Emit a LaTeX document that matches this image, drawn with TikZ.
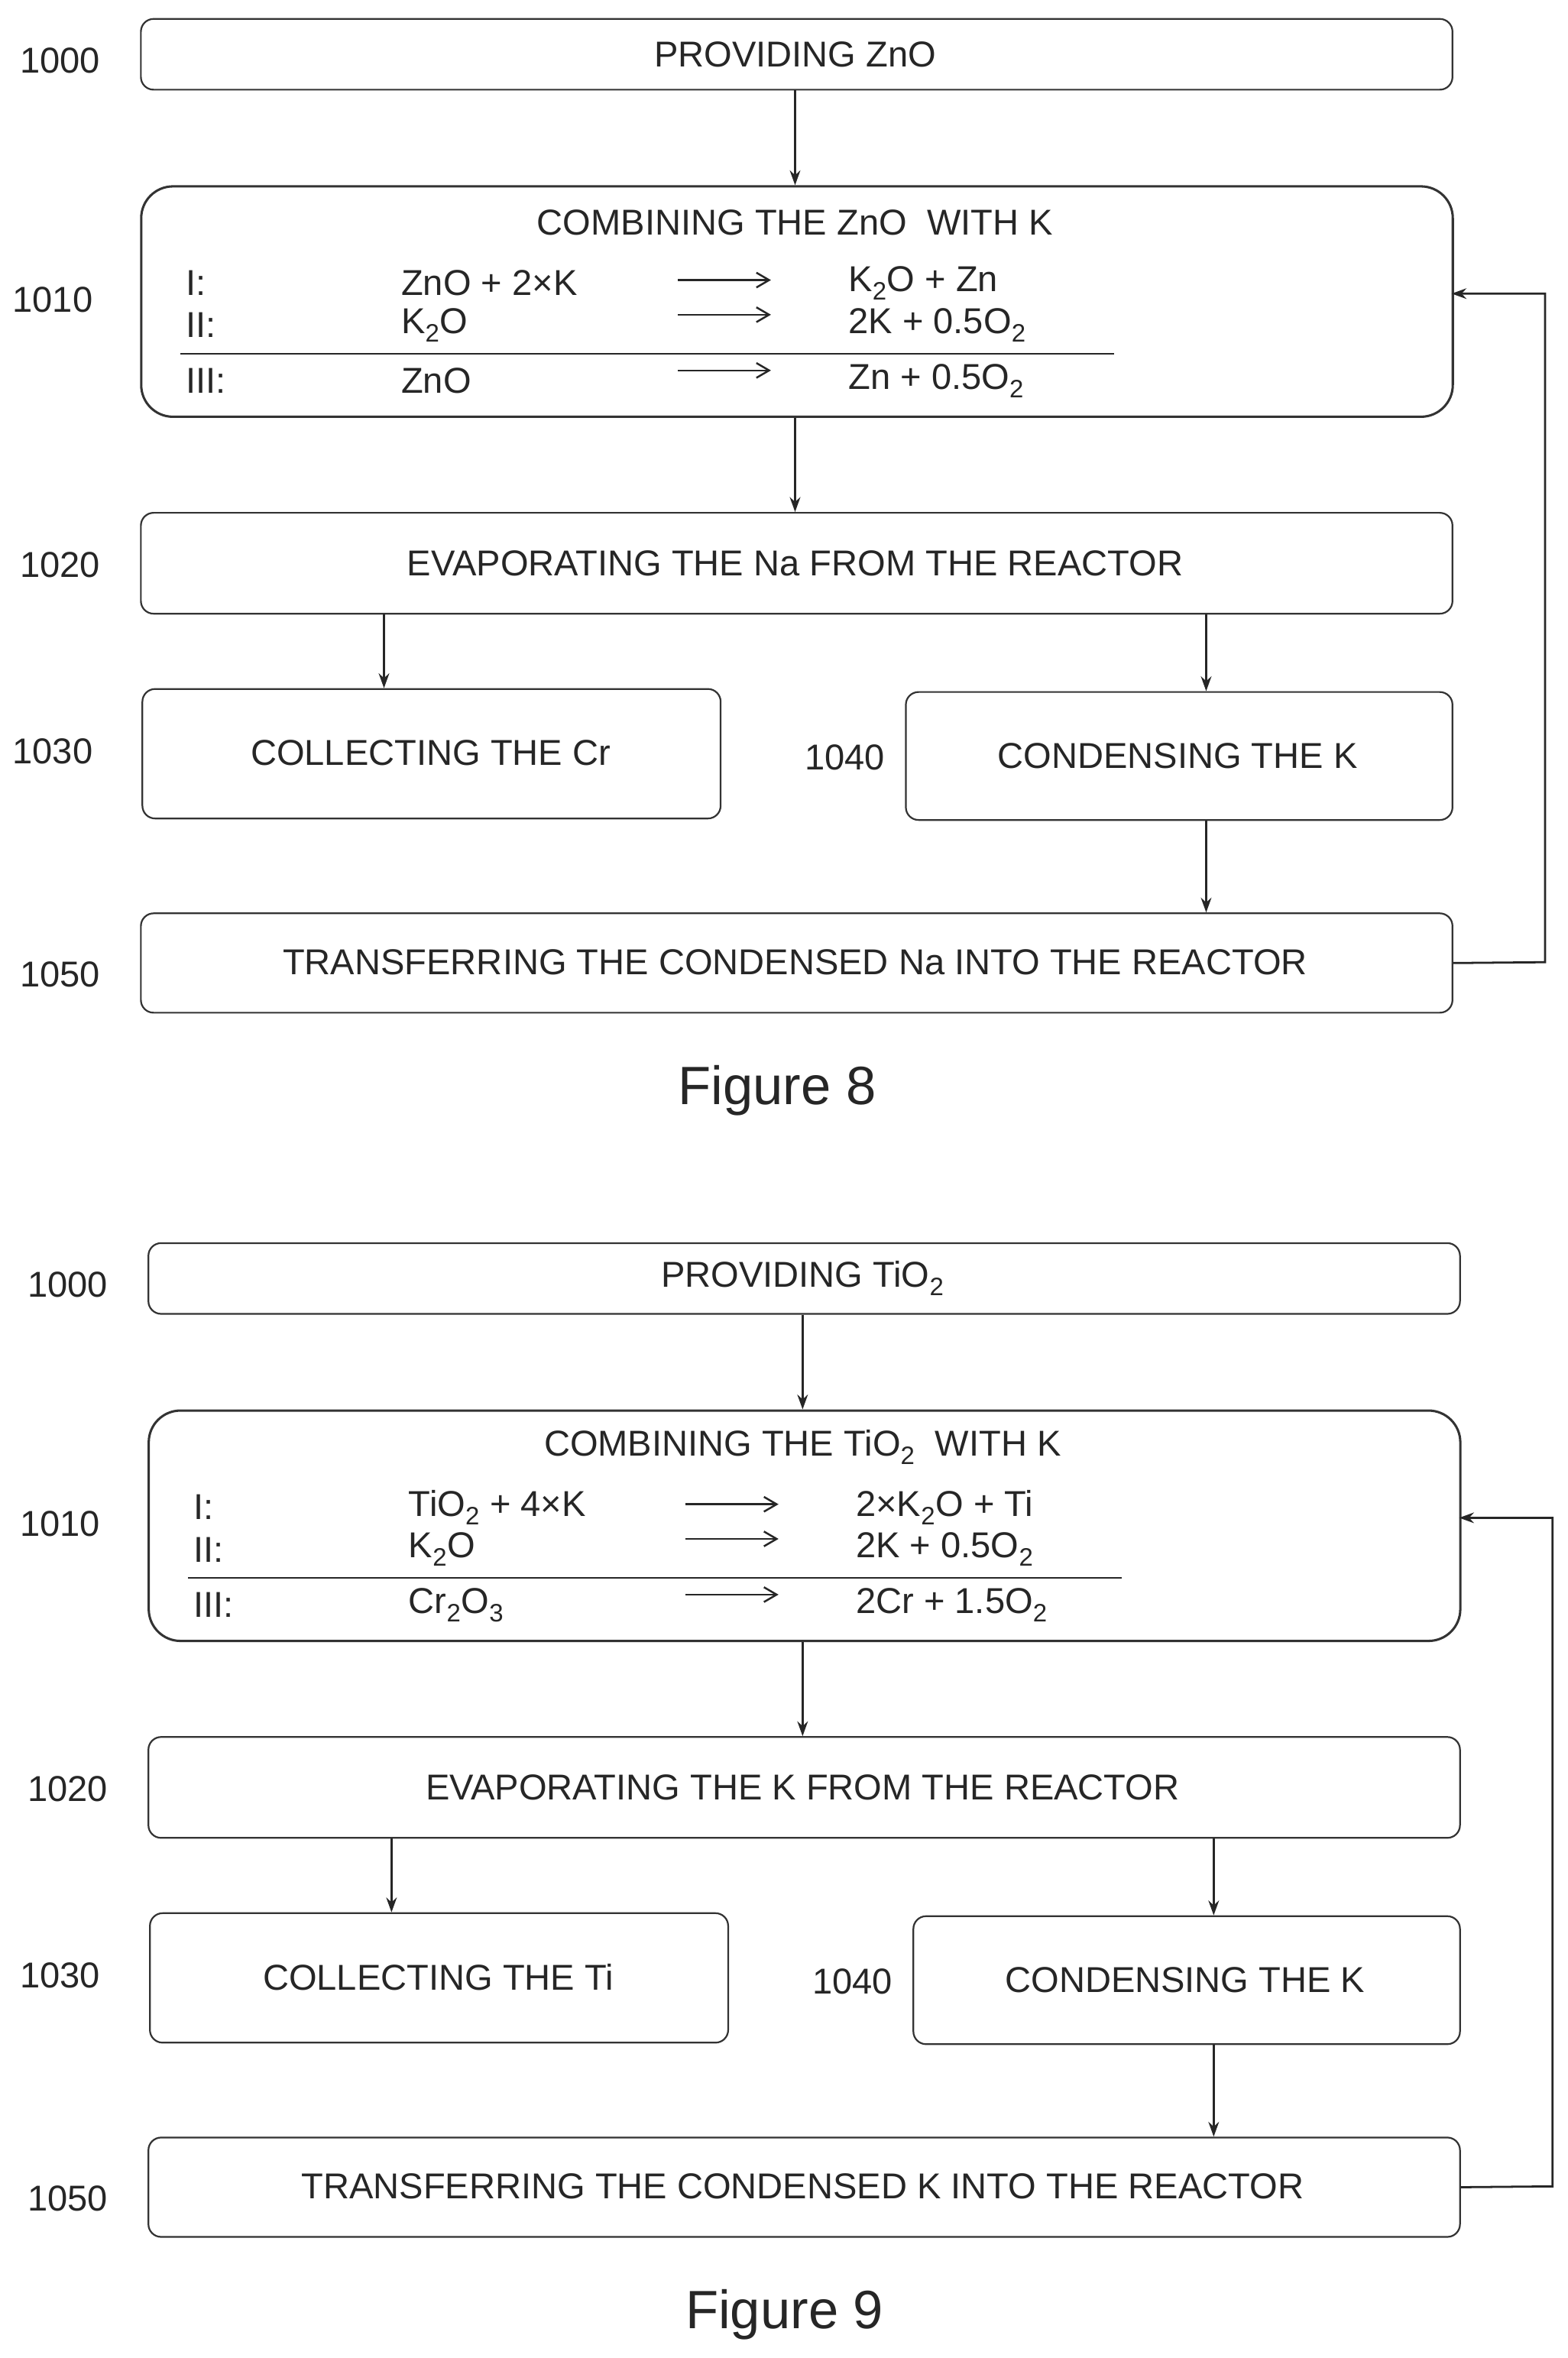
\documentclass[tikz,border=0pt]{standalone}
\usepackage{fontspec}
\setmainfont{Liberation Sans}
\usetikzlibrary{arrows.meta}
\begin{document}
\begin{tikzpicture}[x=0.05cm,y=-0.05cm,
  txt/.style={font=\fontsize{34}{40}\selectfont,text=black!85},
  box/.style={draw=black!80,line width=1.6pt,rounded corners=12pt},
  bigbox/.style={draw=black!80,line width=2.2pt,rounded corners=30pt},
  arr/.style={draw=black!85,line width=2pt,-{Stealth[length=14pt,width=10pt]}},
  carr/.style={draw=black!85,line width=1.8pt,-{Straight Barb[length=12pt,width=14pt]}},
  figcap/.style={font=\fontsize{51}{60}\selectfont,text=black!85}]
\useasboundingbox (0,0) rectangle (1041,1566);
\foreach \dx/\dy/\fig in {0/0/8,5/813/9}{
\begin{scope}[shift={(\dx,\dy)}]
\node[box,minimum width=871*0.05cm,minimum height=47*0.05cm,anchor=north west] (a\fig) at (93,12) {};
\node[bigbox,minimum width=871*0.05cm,minimum height=153*0.05cm,anchor=north west] (b\fig) at (93,123) {};
\node[box,minimum width=871*0.05cm,minimum height=67*0.05cm,anchor=north west] (c\fig) at (93,340) {};
\node[box,minimum width=384*0.05cm,minimum height=86*0.05cm,anchor=north west] (d\fig) at (94,457) {};
\node[box,minimum width=363*0.05cm,minimum height=85*0.05cm,anchor=north west] (e\fig) at (601,459) {};
\node[box,minimum width=871*0.05cm,minimum height=66*0.05cm,anchor=north west] (f\fig) at (93,606) {};
\node[txt] (la\fig) at (40,40) {1000};
\node[txt] (lb\fig) at (35,199) {1010};
\node[txt] (lc\fig) at (40,375) {1020};
\node[txt] (ld\fig) at (35,499) {1030};
\node[txt] (le\fig) at (561,503) {1040};
\node[txt] (lf\fig) at (40,647) {1050};
\draw[arr] (a\fig.south -| 528,0) -- (b\fig.north -| 528,0);
\draw[arr] (b\fig.south -| 528,0) -- (c\fig.north -| 528,0);
\draw[arr] (c\fig.south -| 255,0) -- (d\fig.north -| 255,0);
\draw[arr] (c\fig.south -| 801,0) -- (e\fig.north -| 801,0);
\draw[arr] (e\fig.south -| 801,0) -- (f\fig.north -| 801,0);
\coordinate (fb\fig) at (964,195);
\draw[arr] (f\fig.east) -- (1026,639) -- (1026,195) -- (fb\fig);
\draw[line width=1.5pt,black!85] (120,235) -- (740,235);
\coordinate (p1\fig) at (450,186); \coordinate (q1\fig) at (512,186);
\coordinate (p2\fig) at (450,209); \coordinate (q2\fig) at (512,209);
\coordinate (p3\fig) at (450,246); \coordinate (q3\fig) at (512,246);
\draw[carr] (p1\fig) -- (q1\fig);
\draw[carr] (p2\fig) -- (q2\fig);
\draw[carr] (p3\fig) -- (q3\fig);
\node[txt,anchor=west] (r1\fig) at (121,188) {I:};
\node[txt,anchor=west] (r2\fig) at (121,216) {II:};
\node[txt,anchor=west] (r3\fig) at (121,253) {III:};
\end{scope}}
% Figure 8 texts
\node[txt] (t1) at (528,36) {PROVIDING ZnO};
\node[txt] (t2) at (528,148) {COMBINING THE ZnO\ \ WITH K};
\node[txt,anchor=west] (e1a) at (264,188) {ZnO + 2×K};
\node[txt,anchor=west] (e1b) at (561,188) {K\textsubscript{2}O + Zn};
\node[txt,anchor=west] (e2a) at (264,216) {K\textsubscript{2}O};
\node[txt,anchor=west] (e2b) at (561,216) {2K + 0.5O\textsubscript{2}};
\node[txt,anchor=west] (e3a) at (264,253) {ZnO};
\node[txt,anchor=west] (e3b) at (561,253) {Zn + 0.5O\textsubscript{2}};
\node[txt] (t3) at (528,374) {EVAPORATING THE Na FROM THE REACTOR};
\node[txt] (t4) at (286,500) {COLLECTING THE Cr};
\node[txt] (t5) at (782,502) {CONDENSING THE K};
\node[txt] (t6) at (528,639) {TRANSFERRING THE CONDENSED Na INTO THE REACTOR};
\node[figcap] (c8) at (516,724) {Figure 8};
% Figure 9 texts
\node[txt] (u1) at (533,849) {PROVIDING TiO\textsubscript{2}};
\node[txt] (u2) at (533,961) {COMBINING THE TiO\textsubscript{2}\ \ WITH K};
\node[txt,anchor=west] (f1a) at (269,1001) {TiO\textsubscript{2} + 4×K};
\node[txt,anchor=west] (f1b) at (566,1001) {2×K\textsubscript{2}O + Ti};
\node[txt,anchor=west] (f2a) at (269,1029) {K\textsubscript{2}O};
\node[txt,anchor=west] (f2b) at (566,1029) {2K + 0.5O\textsubscript{2}};
\node[txt,anchor=west] (f3a) at (269,1066) {Cr\textsubscript{2}O\textsubscript{3}};
\node[txt,anchor=west] (f3b) at (566,1066) {2Cr + 1.5O\textsubscript{2}};
\node[txt] (u3) at (533,1187) {EVAPORATING THE K FROM THE REACTOR};
\node[txt] (u4) at (291,1313) {COLLECTING THE Ti};
\node[txt] (u5) at (787,1315) {CONDENSING THE K};
\node[txt] (u6) at (533,1452) {TRANSFERRING THE CONDENSED K INTO THE REACTOR};
\node[figcap] (c9) at (521,1537) {Figure 9};
\end{tikzpicture}
\end{document}
